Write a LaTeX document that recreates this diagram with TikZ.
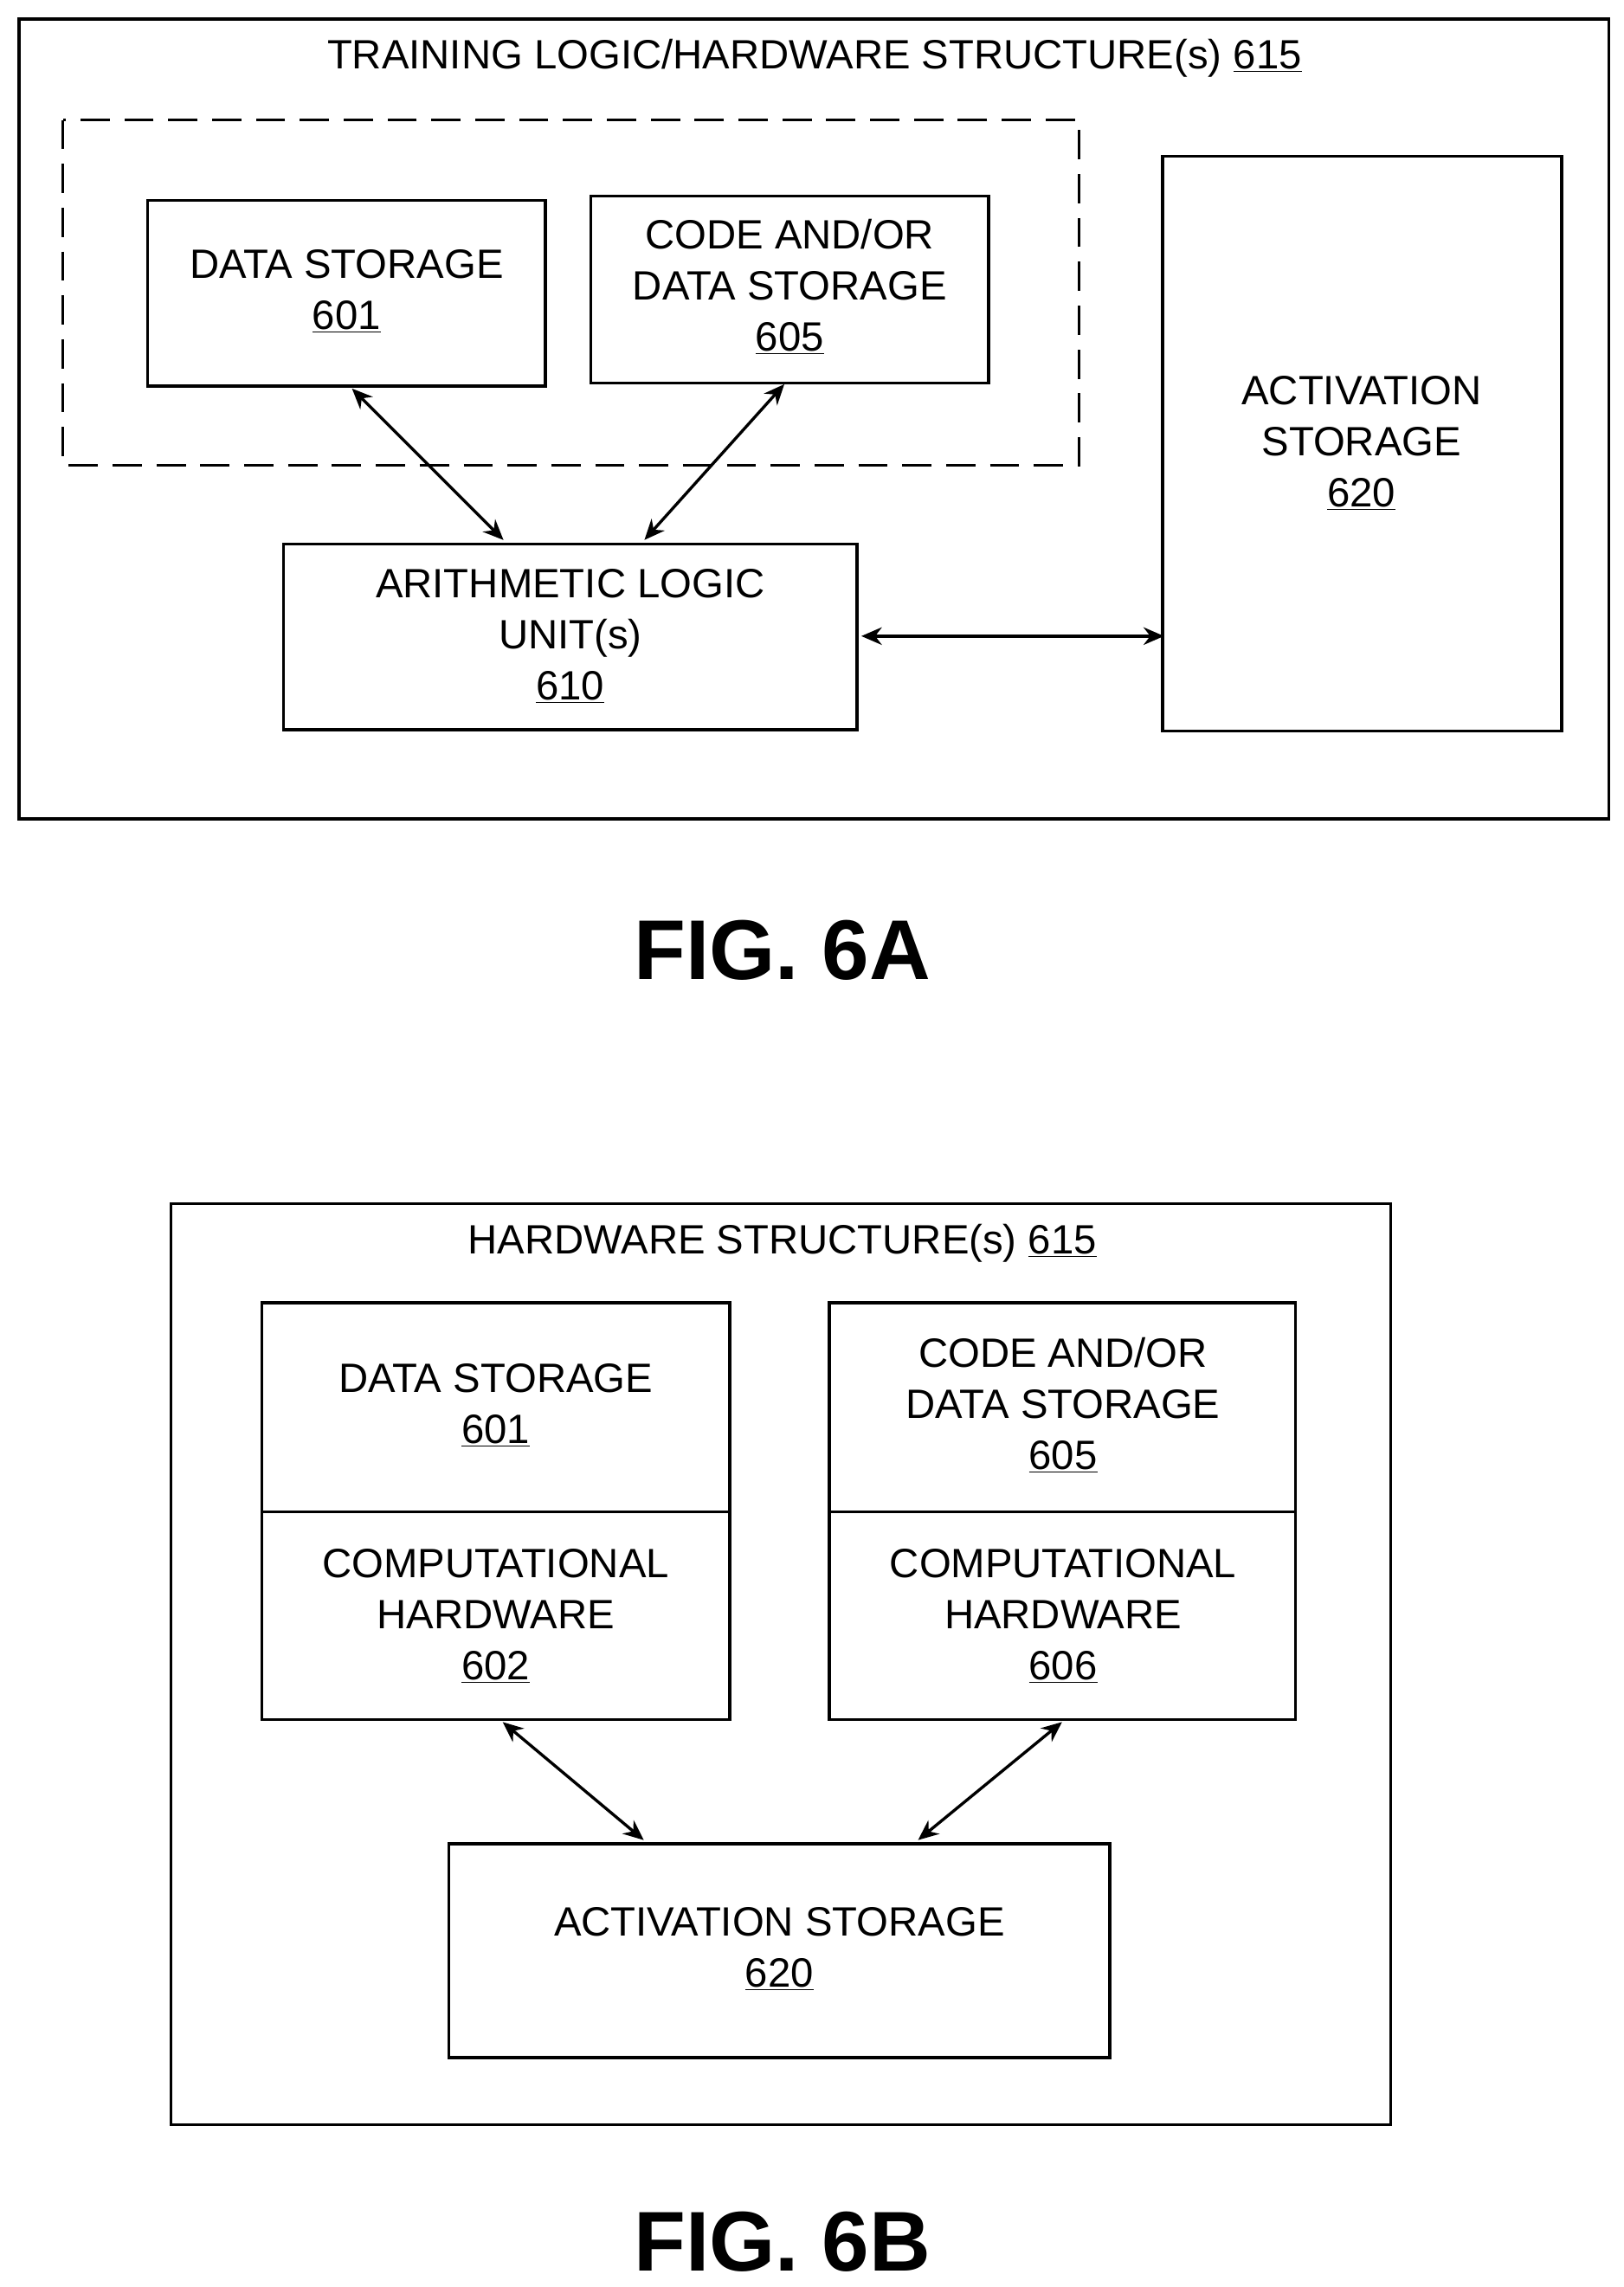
\documentclass[tikz,border=0pt]{standalone}
\usepackage{fontspec}
\setmainfont{Liberation Sans}
\usetikzlibrary{arrows.meta}
\begin{document}
\begin{tikzpicture}[x=1pt,y=-1pt,
  box/.style={draw,line width=2pt},
  txt/.style={font=\fontsize{28}{35}\selectfont,align=center,inner sep=0},
  fig/.style={font=\fontsize{58}{64}\selectfont\bfseries,inner sep=0},
  arr/.style={line width=2pt,{Stealth[length=14pt,width=12pt]}-{Stealth[length=14pt,width=12pt]},shorten <=1pt,shorten >=1pt}]
\useasboundingbox (0,0) rectangle (1110,1564);
% 6A
\draw[box] (13,13) rectangle (1100,560);
\node[txt] (tA) at (557,40) {TRAINING LOGIC/HARDWARE STRUCTURE(s) \underline{615}};
\draw[box,dash pattern=on 20pt off 10pt] (43,82) rectangle (738,318);
\draw[box] (101,137) rectangle (373,264);
\node[txt] (ds) at (237,199) {DATA STORAGE\\\underline{601}};
\draw[box] (404,134) rectangle (676,262);
\node[txt] (cs) at (540,196) {CODE AND/OR\\DATA STORAGE\\\underline{605}};
\draw[box] (194,372) rectangle (586,499);
\node[txt] (alu) at (390,435) {ARITHMETIC LOGIC\\UNIT(s)\\\underline{610}};
\draw[box] (795,107) rectangle (1068,500);
\node[txt] (act) at (931,303) {ACTIVATION\\STORAGE\\\underline{620}};
\coordinate (a1) at (240,265); \coordinate (a2) at (345,370);
\coordinate (b1) at (537,262); \coordinate (b2) at (440,370);
\coordinate (c1) at (588,435); \coordinate (c2) at (797,435);
\draw[arr] (a1) -- (a2);
\draw[arr] (b1) -- (b2);
\draw[arr] (c1) -- (c2);
\node[fig] (f6a) at (535,650) {FIG. 6A};
% 6B
\draw[box] (117,823) rectangle (951,1453);
\node[txt] (tB) at (535,850) {HARDWARE STRUCTURE(s) \underline{615}};
\draw[box] (179,891) rectangle (499,1176);
\draw[box] (179,1034) -- (499,1034);
\node[txt] (ds2) at (339,961) {DATA STORAGE\\\underline{601}};
\node[txt] (ch2) at (339,1105) {COMPUTATIONAL\\HARDWARE\\\underline{602}};
\draw[box] (567,891) rectangle (886,1176);
\draw[box] (567,1034) -- (886,1034);
\node[txt] (cs2) at (727,961) {CODE AND/OR\\DATA STORAGE\\\underline{605}};
\node[txt] (ch6) at (727,1105) {COMPUTATIONAL\\HARDWARE\\\underline{606}};
\draw[box] (307,1261) rectangle (759,1407);
\node[txt] (act2) at (533,1333) {ACTIVATION STORAGE\\\underline{620}};
\coordinate (d1) at (343,1177); \coordinate (d2) at (441,1259);
\coordinate (e1) at (727,1177); \coordinate (e2) at (627,1259);
\draw[arr] (d1) -- (d2);
\draw[arr] (e1) -- (e2);
\node[fig] (f6b) at (535,1533) {FIG. 6B};
\end{tikzpicture}
\end{document}
